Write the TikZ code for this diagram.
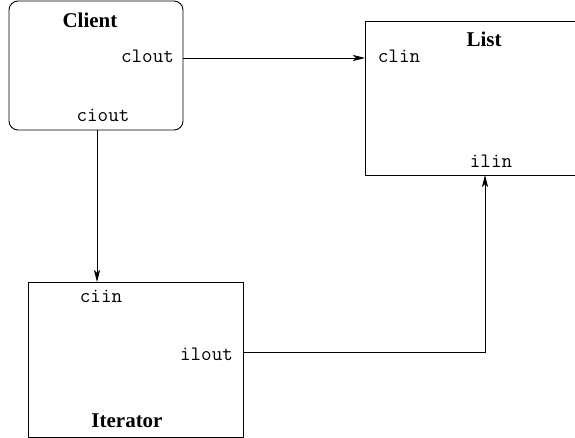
\documentclass[tikz,border=0pt]{standalone}
\usepackage{fontspec}
\setmainfont{Liberation Serif}
\usetikzlibrary{arrows.meta}
\begin{document}
\begin{tikzpicture}[x=1pt,y=-1pt,
  box/.style={draw,line width=0.9pt,inner sep=0pt,outer sep=0pt},
  title/.style={font=\fontsize{21}{21}\selectfont\bfseries,anchor=base,inner sep=0pt},
  port/.style={font=\fontsize{20.5}{20.5}\selectfont\ttfamily,anchor=base,inner sep=0pt},
  wire/.style={line width=0.8pt,-{Stealth[length=12pt,width=6pt,inset=3pt]}}]
\useasboundingbox (0,0) rectangle (575,438);
% components
\node[box,rounded corners=9pt,minimum width=174pt,minimum height=129pt] (client) at (96,65.5) {};
\node[box,minimum width=220pt,minimum height=154pt] (list) at (475,98) {};
\node[box,minimum width=215pt,minimum height=155pt] (iter) at (135.5,359.5) {};
% titles
\node[title] (tclient) at (90,28) {Client};
\node[title] (tlist) at (484,47) {List};
\node[title] (titer) at (127,427) {Iterator};
% ports
\node[port] (clout) at (147.5,63) {clout};
\node[port] (ciout) at (103,122) {ciout};
\node[port] (clin) at (399,63) {clin};
\node[port] (ilin) at (491,168) {ilin};
\node[port] (ciin) at (101,302) {ciin};
\node[port] (ilout) at (206.5,360) {ilout};
% connection points on the box edges
\coordinate (pclout) at (183,58);
\coordinate (pclin) at (365,58);
\coordinate (pciout) at (97,130);
\coordinate (pciin) at (97,282);
\coordinate (pilout) at (243,352);
\coordinate (pilin) at (485,175);
% connectors
\draw[wire] (pclout) -- (pclin);
\draw[wire] (pciout) -- (pciin);
\draw[wire] (pilout) -| (pilin);
\end{tikzpicture}
\end{document}
